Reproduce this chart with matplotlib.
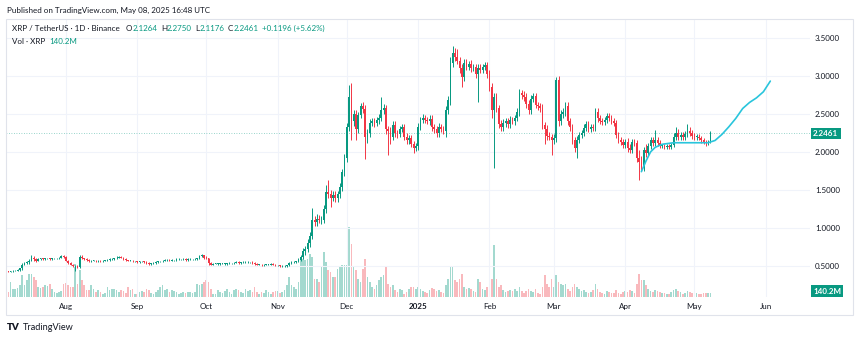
import datetime as dt
import numpy as np
import matplotlib.pyplot as plt
import matplotlib.dates as mdates
from matplotlib.patches import Rectangle

# daily XRP/USDT candles, 2024-07-07 .. 2025-05-08
start_day = dt.date(2024, 7, 7)
first_open = 0.43

close = [
    # Jul
    0.42, 0.43, 0.435, 0.44, 0.45, 0.47, 0.52, 0.54, 0.55, 0.57, 0.61, 0.59, 0.57, 0.59, 0.60,
    0.59, 0.60, 0.60, 0.59, 0.60, 0.60, 0.60, 0.61, 0.63, 0.62,
    # Aug
    0.57, 0.54, 0.52, 0.50, 0.50, 0.49, 0.62, 0.60, 0.59, 0.58, 0.56, 0.57, 0.57, 0.56, 0.57,
    0.56, 0.57, 0.57, 0.58, 0.59, 0.59, 0.60, 0.61, 0.62, 0.61, 0.59, 0.58, 0.57, 0.57, 0.56, 0.56,
    # Sep
    0.55, 0.56, 0.56, 0.55, 0.54, 0.53, 0.53, 0.54, 0.55, 0.56, 0.56, 0.57, 0.58, 0.58, 0.57,
    0.58, 0.58, 0.59, 0.59, 0.59, 0.59, 0.58, 0.59, 0.59, 0.59, 0.59, 0.60, 0.63, 0.64, 0.61,
    # Oct
    0.60, 0.54, 0.52, 0.53, 0.53, 0.53, 0.53, 0.53, 0.53, 0.53, 0.54, 0.54, 0.54, 0.55, 0.54,
    0.55, 0.55, 0.55, 0.55, 0.55, 0.54, 0.53, 0.52, 0.52, 0.51, 0.52, 0.52, 0.52, 0.53, 0.52, 0.51,
    # Nov
    0.51, 0.50, 0.50, 0.50, 0.51, 0.54, 0.55, 0.55, 0.56, 0.58, 0.62, 0.70, 0.72, 0.80, 0.90,
    1.11, 1.08, 1.12, 1.10, 1.11, 1.25, 1.47, 1.45, 1.40, 1.43, 1.39, 1.45, 1.54, 1.73, 1.92,
    # Dec
    2.33, 2.72, 2.40, 2.50, 2.30, 2.48, 2.60, 2.56, 2.20, 2.25, 2.38, 2.40, 2.38, 2.42, 2.45,
    2.55, 2.58, 2.30, 2.28, 2.20, 2.35, 2.25, 2.23, 2.30, 2.33, 2.20, 2.15, 2.18, 2.10, 2.05, 2.08,
    # Jan
    2.33, 2.42, 2.45, 2.42, 2.40, 2.43, 2.33, 2.30, 2.25, 2.33, 2.30, 2.28, 2.55, 2.68, 3.17,
    3.30, 3.25, 3.20, 3.10, 2.98, 3.17, 3.12, 3.16, 3.10, 3.12, 3.02, 3.10, 3.08, 3.12, 3.14, 3.02,
    # Feb
    2.85, 2.55, 2.72, 2.57, 2.37, 2.33, 2.38, 2.40, 2.36, 2.42, 2.40, 2.45, 2.52, 2.77, 2.75,
    2.72, 2.63, 2.55, 2.70, 2.73, 2.62, 2.60, 2.58, 2.35, 2.30, 2.21, 2.20, 2.15,
    # Mar
    2.18, 2.95, 2.40, 2.50, 2.52, 2.60, 2.40, 2.33, 2.15, 2.05, 2.16, 2.22, 2.25, 2.32, 2.36,
    2.30, 2.33, 2.31, 2.53, 2.44, 2.40, 2.39, 2.42, 2.47, 2.44, 2.40, 2.38, 2.22, 2.16, 2.13, 2.09,
    # Apr
    2.13, 2.05, 2.03, 2.13, 2.12, 1.92, 1.87, 1.80, 2.03, 1.98, 2.08, 2.15, 2.12, 2.15, 2.12,
    2.08, 2.08, 2.07, 2.08, 2.07, 2.09, 2.20, 2.25, 2.20, 2.22, 2.20, 2.24, 2.28, 2.25, 2.21,
    # May
    2.20, 2.20, 2.18, 2.15, 2.13, 2.12, 2.1264, 2.2461,
]

# wick length above the body / below the body
wick_hi = [
    0.01, 0.005, 0.01, 0.01, 0.01, 0.01, 0.02, 0.01, 0.02, 0.02, 0.03, 0.02, 0.01, 0.01, 0.01,
    0.01, 0.01, 0.01, 0.01, 0.01, 0.01, 0.01, 0.01, 0.02, 0.01,
    0.01, 0.01, 0.01, 0.01, 0.01, 0.01, 0.02, 0.02, 0.01, 0.01, 0.01, 0.01, 0.01, 0.01, 0.01,
    0.01, 0.005, 0.01, 0.01, 0.01, 0.01, 0.01, 0.02, 0.01, 0.01, 0.01, 0.01, 0.005, 0.01, 0.01, 0.01,
    0.01, 0.01, 0.01, 0.01, 0.01, 0.01, 0.005, 0.01, 0.01, 0.01, 0.01, 0.01, 0.01, 0.01, 0.01,
    0.01, 0.005, 0.01, 0.01, 0.005, 0.01, 0.01, 0.01, 0.01, 0.005, 0.01, 0.01, 0.02, 0.02, 0.01,
    0.02, 0.01, 0.01, 0.005, 0.01, 0.005, 0.01, 0.01, 0.005, 0.01, 0.01, 0.005, 0.01, 0.01, 0.01,
    0.005, 0.01, 0.01, 0.01, 0.005, 0.01, 0.01, 0.005, 0.01, 0.01, 0.005, 0.01, 0.01, 0.01, 0.01, 0.005,
    0.01, 0.01, 0.01, 0.01, 0.01, 0.01, 0.01, 0.01, 0.01, 0.02, 0.03, 0.04, 0.04, 0.05, 0.05,
    0.15, 0.05, 0.06, 0.05, 0.05, 0.05, 0.10, 0.16, 0.05, 0.05, 0.05, 0.04, 0.05, 0.05, 0.05,
    0.05, 0.16, 0.19, 0.05, 0.05, 0.05, 0.04, 0.05, 0.05, 0.05, 0.05, 0.04, 0.05, 0.04, 0.05,
    0.17, 0.05, 0.04, 0.04, 0.05, 0.05, 0.05, 0.04, 0.04, 0.04, 0.04, 0.05, 0.04, 0.04, 0.04, 0.04,
    0.05, 0.04, 0.05, 0.04, 0.04, 0.05, 0.05, 0.04, 0.04, 0.05, 0.04, 0.04, 0.05, 0.06, 0.08,
    0.09, 0.06, 0.10, 0.05, 0.05, 0.05, 0.05, 0.04, 0.05, 0.04, 0.04, 0.05, 0.05, 0.04, 0.04, 0.04,
    0.05, 0.05, 0.05, 0.05, 0.05, 0.05, 0.05, 0.05, 0.05, 0.05, 0.04, 0.04, 0.05, 0.06, 0.04,
    0.05, 0.05, 0.05, 0.05, 0.04, 0.05, 0.04, 0.04, 0.05, 0.04, 0.05, 0.05, 0.04,
    0.05, 0.03, 0.05, 0.05, 0.05, 0.05, 0.05, 0.04, 0.04, 0.05, 0.05, 0.04, 0.04, 0.04, 0.04,
    0.04, 0.04, 0.04, 0.05, 0.05, 0.04, 0.04, 0.04, 0.04, 0.04, 0.04, 0.04, 0.04, 0.04, 0.04, 0.04,
    0.04, 0.05, 0.05, 0.04, 0.04, 0.04, 0.10, 0.08, 0.04, 0.08, 0.04, 0.05, 0.05, 0.14, 0.04,
    0.04, 0.03, 0.03, 0.03, 0.03, 0.03, 0.05, 0.08, 0.05, 0.04, 0.04, 0.04, 0.08, 0.05, 0.04,
    0.04, 0.04, 0.03, 0.03, 0.03, 0.03, 0.03, 0.0289,
]
wick_lo = [
    0.005, 0.005, 0.01, 0.005, 0.01, 0.01, 0.02, 0.01, 0.01, 0.02, 0.01, 0.02, 0.02, 0.01, 0.01,
    0.01, 0.01, 0.01, 0.01, 0.01, 0.01, 0.01, 0.01, 0.01, 0.01,
    0.01, 0.01, 0.01, 0.01, 0.07, 0.02, 0.01, 0.01, 0.01, 0.01, 0.01, 0.01, 0.01, 0.01, 0.01,
    0.01, 0.01, 0.01, 0.01, 0.01, 0.005, 0.01, 0.01, 0.01, 0.01, 0.01, 0.01, 0.01, 0.005, 0.01, 0.01,
    0.01, 0.005, 0.01, 0.01, 0.01, 0.01, 0.01, 0.005, 0.01, 0.01, 0.005, 0.01, 0.01, 0.01, 0.01,
    0.005, 0.01, 0.01, 0.01, 0.01, 0.005, 0.01, 0.01, 0.005, 0.01, 0.01, 0.01, 0.01, 0.01, 0.02,
    0.01, 0.02, 0.01, 0.01, 0.005, 0.01, 0.01, 0.005, 0.01, 0.01, 0.005, 0.01, 0.01, 0.005, 0.01,
    0.01, 0.005, 0.01, 0.01, 0.01, 0.01, 0.01, 0.01, 0.01, 0.01, 0.005, 0.01, 0.01, 0.005, 0.01, 0.01,
    0.01, 0.01, 0.01, 0.01, 0.01, 0.01, 0.01, 0.01, 0.01, 0.01, 0.02, 0.03, 0.05, 0.04, 0.05,
    0.05, 0.05, 0.05, 0.04, 0.05, 0.05, 0.05, 0.05, 0.12, 0.05, 0.05, 0.05, 0.05, 0.05, 0.05,
    0.05, 0.05, 0.25, 0.06, 0.15, 0.05, 0.04, 0.05, 0.29, 0.08, 0.05, 0.04, 0.05, 0.04, 0.05,
    0.04, 0.05, 0.06, 0.32, 0.10, 0.04, 0.05, 0.05, 0.04, 0.04, 0.04, 0.05, 0.04, 0.04, 0.06, 0.04,
    0.05, 0.04, 0.04, 0.04, 0.04, 0.05, 0.05, 0.05, 0.06, 0.05, 0.04, 0.05, 0.08, 0.05, 0.06,
    0.06, 0.06, 0.05, 0.06, 0.13, 0.05, 0.05, 0.05, 0.05, 0.04, 0.05, 0.36, 0.05, 0.05, 0.04, 0.05,
    0.05, 0.10, 0.76, 0.05, 0.06, 0.06, 0.05, 0.05, 0.05, 0.05, 0.04, 0.05, 0.05, 0.05, 0.05,
    0.05, 0.05, 0.05, 0.05, 0.05, 0.05, 0.05, 0.05, 0.05, 0.19, 0.06, 0.05, 0.19,
    0.05, 0.05, 0.06, 0.05, 0.05, 0.05, 0.05, 0.05, 0.05, 0.05, 0.13, 0.04, 0.04, 0.04, 0.04,
    0.04, 0.04, 0.04, 0.04, 0.05, 0.04, 0.04, 0.04, 0.04, 0.04, 0.04, 0.04, 0.04, 0.04, 0.04, 0.04,
    0.04, 0.05, 0.05, 0.04, 0.04, 0.05, 0.24, 0.05, 0.05, 0.05, 0.04, 0.04, 0.04, 0.04, 0.04,
    0.03, 0.03, 0.03, 0.03, 0.03, 0.03, 0.03, 0.04, 0.04, 0.04, 0.04, 0.04, 0.04, 0.04, 0.04,
    0.04, 0.04, 0.03, 0.03, 0.03, 0.04, 0.03, 0.0088,
]

# volume, millions of XRP
volume = [
    200, 600, 320, 320, 360, 480, 880, 480, 680, 920, 920, 800, 680, 400, 360,
    400, 480, 440, 520, 320, 200, 160, 200, 240, 520,
    560, 480, 400, 400, 1320, 520, 1080, 680, 480, 280, 280, 480, 320, 200, 280,
    200, 120, 160, 400, 280, 320, 320, 280, 200, 280, 240, 160, 400, 280, 320, 120,
    120, 200, 240, 200, 320, 280, 160, 120, 200, 280, 400, 480, 280, 320, 200,
    280, 240, 200, 120, 160, 200, 160, 200, 200, 160, 200, 520, 480, 520, 600,
    680, 600, 320, 120, 120, 280, 200, 160, 240, 320, 200, 120, 280, 320, 280,
    200, 160, 320, 240, 280, 200, 400, 200, 120, 200, 160, 280, 200, 120, 200, 240,
    240, 160, 200, 280, 480, 800, 480, 400, 320, 600, 1480, 1520, 1480, 1520, 1720,
    1600, 720, 720, 600, 1200, 1800, 1400, 1080, 1000, 800, 800, 1120, 1200, 1280, 1280,
    1280, 2800, 2120, 1200, 1080, 720, 600, 1120, 1520, 800, 600, 400, 320, 480, 680,
    800, 880, 1200, 520, 400, 480, 280, 200, 320, 280, 120, 200, 320, 400, 400, 320,
    400, 320, 240, 200, 160, 280, 360, 320, 240, 280, 200, 160, 480, 720, 1200,
    1200, 680, 600, 720, 920, 400, 320, 360, 320, 240, 200, 720, 600, 320, 280, 400,
    720, 720, 2080, 720, 400, 480, 280, 200, 240, 280, 240, 320, 240, 400, 240,
    160, 240, 320, 240, 200, 320, 160, 120, 400, 880, 520, 400, 720,
    400, 880, 600, 520, 480, 520, 320, 240, 400, 520, 400, 320, 240, 280, 200,
    160, 200, 280, 520, 320, 200, 160, 120, 240, 200, 160, 160, 280, 160, 120, 200,
    240, 200, 280, 240, 160, 520, 920, 680, 680, 480, 320, 240, 200, 280, 240,
    200, 160, 160, 120, 120, 200, 280, 320, 240, 200, 120, 160, 240, 200, 160,
    200, 160, 120, 120, 160, 160, 160, 140.2,
]

# hand-drawn projection curve
proj_dates = ["2025-04-08", "2025-04-10", "2025-04-12", "2025-04-14", "2025-04-17", "2025-04-22",
              "2025-05-01", "2025-05-07", "2025-05-10", "2025-05-13", "2025-05-16", "2025-05-19",
              "2025-05-22", "2025-05-25", "2025-05-28", "2025-05-31", "2025-06-03"]
proj_price = [1.74, 1.88, 2.00, 2.06, 2.10, 2.12, 2.12, 2.12, 2.15, 2.23, 2.33, 2.44,
              2.57, 2.65, 2.71, 2.79, 2.93]

price_ticks = [0.5, 1.0, 1.5, 2.0, 2.5, 3.0, 3.5]
month_ticks = ["2024-08-01", "2024-09-01", "2024-10-01", "2024-11-01", "2024-12-01", "2025-01-01",
               "2025-02-01", "2025-03-01", "2025-04-01", "2025-05-01", "2025-06-01"]
month_labels = ["Aug", "Sep", "Oct", "Nov", "Dec", "2025", "Feb", "Mar", "Apr", "May", "Jun"]
last_price = 2.2461

UP = "#089981"
DOWN = "#F23645"
DARK = "#131722"
GRID = "#f0f3fa"
FONT = "Lato"

assert len(close) == len(wick_hi) == len(wick_lo) == len(volume)

n = len(close)
x = mdates.date2num([start_day + dt.timedelta(days=i) for i in range(n)])
c = np.array(close)
o = np.r_[first_open, c[:-1]]
hi = np.maximum(o, c) + np.array(wick_hi)
lo = np.minimum(o, c) - np.array(wick_lo)
up = c >= o
cols = np.where(up, UP, DOWN)

W, H = 860, 339
fig = plt.figure(figsize=(W / 100, H / 100), dpi=100)
plt.rcParams["font.family"] = [FONT, "DejaVu Sans"]

# plot area in pixels: x 6..810, y 19..297
rect = [6 / W, 1 - 297 / H, 804 / W, 278 / H]
axv = fig.add_axes(rect)
ax = fig.add_axes(rect)
ax.patch.set_alpha(0)

aug1 = mdates.date2num(dt.date(2024, 8, 1))
px_day = 2.302
xlim = (aug1 - 59.9 / px_day, aug1 + 744.1 / px_day)

# volume, behind the candles
vcols = np.where(up, "#a3d9cf", "#f9b9bd")
axv.bar(x, volume, width=0.72, color=vcols, linewidth=0)
axv.set_ylim(0, 278 * 40)
axv.set_xlim(*xlim)
axv.axis("off")

# grid
for m in month_ticks:
    ax.axvline(mdates.datestr2num(m), color=GRID, lw=0.8, zorder=0)
for p in price_ticks:
    ax.axhline(p, color=GRID, lw=0.8, zorder=0)

# candles
ax.vlines(x, lo, hi, colors=cols, lw=0.7, zorder=2)
ax.bar(x, np.maximum(np.abs(c - o), 0.004), bottom=np.minimum(o, c), width=0.72,
       color=cols, linewidth=0, zorder=3)

# projection
ax.plot(mdates.datestr2num(proj_dates), proj_price, color="#29c5dc", lw=1.2, zorder=4,
        solid_capstyle="round")

ax.axhline(last_price, color=UP, alpha=0.55, lw=0.6, ls=(0, (1, 2)), zorder=1)

ax.set_xlim(*xlim)
ax.set_ylim(0.093, 3.746)
for s in ax.spines.values():
    s.set_visible(False)

ax.yaxis.tick_right()
ax.set_yticks(price_ticks)
ax.set_yticklabels([f"{p:.4f}" for p in price_ticks])
ax.tick_params(axis="y", length=0, pad=3.5, labelsize=5.8, labelcolor=DARK)

ax.set_xticks(mdates.datestr2num(month_ticks))
ax.set_xticklabels(month_labels)
ax.tick_params(axis="x", length=0, pad=4.5, labelsize=5.8, labelcolor=DARK)
for lab in ax.get_xticklabels():
    if lab.get_text() == "2025":
        lab.set_fontweight("bold")

# price / volume tags on the scale
fig.text(813 / W, 1 - 133.5 / H, f"{last_price:.4f}", color="white", fontsize=5.8,
         va="center", ha="left", fontweight="bold",
         bbox=dict(boxstyle="square,pad=0.3", fc=UP, ec="none"))
fig.text(813 / W, 1 - 291 / H, "140.2M", color="white", fontsize=5.8,
         va="center", ha="left", fontweight="bold",
         bbox=dict(boxstyle="square,pad=0.3", fc=UP, ec="none"))

# outer frame
fig.add_artist(Rectangle((6 / W, 1 - 315 / H), 847 / W, 296 / H, transform=fig.transFigure,
                         fill=False, ec="#e0e3eb", lw=0.8))

# header
fig.text(7 / W, 1 - 10 / H, "Published on TradingView.com, May 08, 2025 16:48 UTC",
         color=DARK, fontsize=5.8, va="center", ha="left")


def chain(parts, x0, y0):
    t = fig.text(x0, y0, parts[0][0], color=parts[0][1], fontsize=5.8, va="bottom", ha="left")
    for s, col, gap in parts[1:]:
        t = ax.annotate(s, xy=(1, 0), xycoords=t, xytext=(gap, 0), textcoords="offset points",
                        color=col, fontsize=5.8, va="bottom", ha="left", annotation_clip=False)


chain([("XRP / TetherUS · 1D · Binance", DARK, 0), ("O", DARK, 4.5), ("2.1264", UP, 0),
       ("H", DARK, 2.5), ("2.2750", UP, 0), ("L", DARK, 2.5), ("2.1176", UP, 0),
       ("C", DARK, 2.5), ("2.2461", UP, 0), ("+0.1196 (+5.62%)", UP, 2.5)],
      12 / W, 1 - 32 / H)
chain([("Vol · XRP", DARK, 0), ("140.2M", UP, 3)], 12 / W, 1 - 45 / H)

# footer logo
fig.text(7 / W, 1 - 327 / H, "TV", color=DARK, fontsize=7, fontweight="heavy",
         va="center", ha="left")
fig.text(23 / W, 1 - 327 / H, "TradingView", color=DARK, fontsize=6.6, va="center", ha="left")

fig.savefig("out.png", dpi=100)
